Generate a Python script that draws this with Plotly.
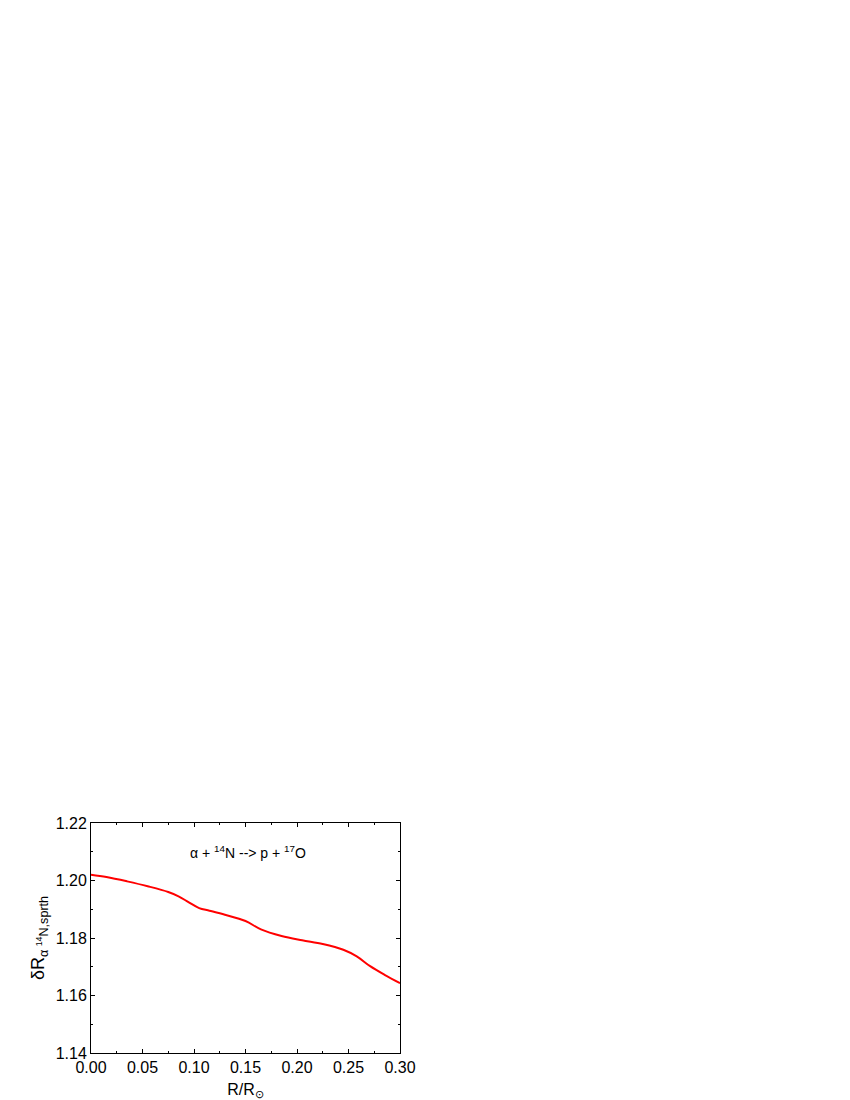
import plotly.graph_objects as go

# radius fraction and ratio
r_frac = [0.000, 0.015, 0.035, 0.055, 0.075, 0.085, 0.095, 0.105, 0.115, 0.130,
          0.150, 0.165, 0.185, 0.205, 0.225, 0.245, 0.258, 0.271, 0.285, 0.300]
delta_r = [1.2020, 1.2012, 1.1997, 1.1980, 1.1960, 1.1945, 1.1924, 1.1904, 1.1895, 1.1881,
           1.1859, 1.1830, 1.1807, 1.1792, 1.1779, 1.1759, 1.1736, 1.1702, 1.1672, 1.1643]

x_ticks = [0.00, 0.05, 0.10, 0.15, 0.20, 0.25, 0.30]
y_ticks = [1.14, 1.16, 1.18, 1.20, 1.22]

FONT = "Arial, 'Liberation Sans', sans-serif"


def main():
    fig = go.Figure(
        data=[
            go.Scatter(
                x=r_frac,
                y=delta_r,
                mode="lines",
                line=dict(color="#ff0000", width=2, shape="spline"),
                showlegend=False,
            )
        ]
    )

    axis_common = dict(
        showgrid=False,
        zeroline=False,
        showline=True,
        linecolor="black",
        linewidth=1,
        mirror="ticks",
        ticks="inside",
        ticklen=4,
        tickwidth=1,
        tickcolor="black",
        tickfont=dict(family=FONT, size=16, color="black"),
        minor=dict(ticks="inside", ticklen=2, tickwidth=1, tickcolor="black", showgrid=False),
    )

    fig.update_xaxes(
        range=[0, 0.30],
        tickvals=x_ticks,
        ticktext=[f"{v:.2f}" for v in x_ticks],
        minor_dtick=0.025,
        title=dict(text="R/R<sub>⊙</sub>", font=dict(family=FONT, size=16, color="black"), standoff=8),
        **axis_common,
    )
    fig.update_yaxes(
        range=[1.14, 1.22],
        tickvals=y_ticks,
        ticktext=[f"{v:.2f}" for v in y_ticks],
        minor_dtick=0.01,
        title=dict(
            text="δR<sub>α <sup>14</sup>N,sprth</sub>",
            font=dict(family=FONT, size=18, color="black"),
            standoff=6,
        ),
        **axis_common,
    )

    fig.add_annotation(
        x=0.152,
        y=1.2099,
        text="α + <sup>14</sup>N --> p + <sup>17</sup>O",
        showarrow=False,
        font=dict(family=FONT, size=14, color="black"),
    )

    fig.update_layout(
        width=850,
        height=1100,
        margin=dict(l=83, r=458, t=815, b=55),
        paper_bgcolor="white",
        plot_bgcolor="white",
        font=dict(family=FONT, color="black"),
    )

    fig.write_html("out.html")


if __name__ == "__main__":
    main()
